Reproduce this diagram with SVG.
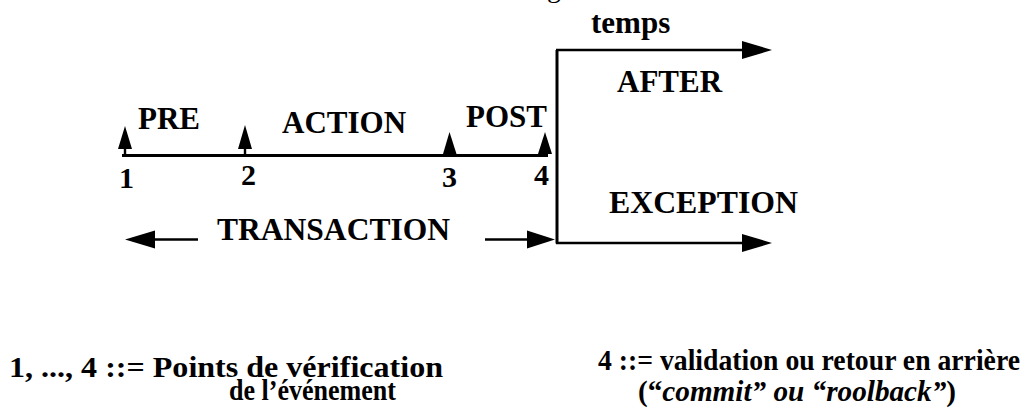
<svg xmlns="http://www.w3.org/2000/svg" width="1031" height="412" viewBox="0 0 1031 412">
<style>
.t{font-family:"Liberation Serif","Times New Roman",serif;font-weight:bold;font-size:31px;fill:#000}
.n{font-family:"Liberation Serif","Times New Roman",serif;font-weight:bold;font-size:30px;fill:#000}
.b{font-family:"Liberation Serif","Times New Roman",serif;font-weight:bold;fill:#000}
.ln{stroke:#000;stroke-width:2.5;fill:none}
.ah{fill:#000;stroke:none}
</style>
<rect width="1031" height="412" fill="#fff"/>
<text x="547" y="-3" style="font-family:'Liberation Serif',serif;font-size:28px">g</text>
<g id="connectors">
<line class="ln" x1="122" y1="155.5" x2="548" y2="155.5" style="stroke-width:3"/>
<line class="ln" x1="557" y1="50" x2="557" y2="243.5" style="stroke-width:3"/>
<line class="ln" x1="556" y1="50" x2="744" y2="50"/>
<polygon class="ah" points="742,41 772,50 742,59"/>
<line class="ln" x1="556" y1="243" x2="744" y2="243"/>
<polygon class="ah" points="742,234 772,243 742,252"/>
<line class="ln" x1="198" y1="239.5" x2="153" y2="239.5"/>
<polygon class="ah" points="155,230.5 125,239.5 155,248.5"/>
<line class="ln" x1="485" y1="239.5" x2="529" y2="239.5"/>
<polygon class="ah" points="527,230.5 555,239.5 527,248.5"/>
</g>
<g id="tick1"><polygon class="ah" points="125,126 132,149 126.2,149 126.2,155 123.8,155 123.8,149 118,149"/><text class="n" x="119" y="188">1</text></g>
<g id="tick2"><polygon class="ah" points="245,125 252,149 246.2,149 246.2,155 243.8,155 243.8,149 238,149"/><text class="n" x="241" y="185">2</text></g>
<g id="tick3"><polygon class="ah" points="449.5,132 456.5,154 443,154"/><text class="n" x="442" y="187">3</text></g>
<g id="tick4"><polygon class="ah" points="545,132 552,154 538,154"/><text class="n" x="534" y="185">4</text></g>
<g id="pre"><text class="t" x="138" y="129">PRE</text></g>
<g id="action"><text class="t" x="282" y="133">ACTION</text></g>
<g id="post"><text class="t" x="466" y="127">POST</text></g>
<g id="transaction"><text class="t" x="217" y="240" textLength="233" lengthAdjust="spacingAndGlyphs">TRANSACTION</text></g>
<g id="temps"><text class="t" x="591" y="33">temps</text></g>
<g id="after"><text class="t" x="617" y="92">AFTER</text></g>
<g id="exception"><text class="t" x="609" y="213" textLength="189" lengthAdjust="spacingAndGlyphs">EXCEPTION</text></g>
<g id="legend-left">
<text class="b" x="9" y="377" style="font-size:29.5px" textLength="434" lengthAdjust="spacingAndGlyphs">1, ..., 4 ::= Points de vérification</text>
<text class="b" x="229" y="400" style="font-size:29.5px" textLength="167" lengthAdjust="spacingAndGlyphs">de l’événement</text>
</g>
<g id="legend-right">
<text class="b" x="598" y="370" style="font-size:28.5px" textLength="422" lengthAdjust="spacingAndGlyphs">4 ::= validation ou retour en arrière</text>
<text class="b" x="638" y="401" style="font-size:28.5px" textLength="318" lengthAdjust="spacingAndGlyphs">(“<tspan font-style="italic">commit” ou “roolback”</tspan>)</text>
</g>
</svg>
